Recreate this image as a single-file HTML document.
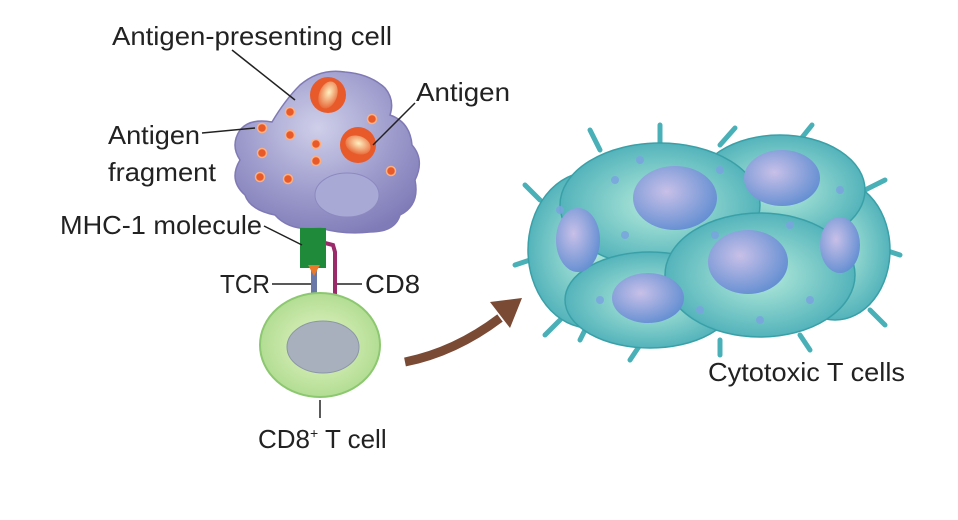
<!DOCTYPE html>
<html><head><meta charset="utf-8"><style>
html,body{margin:0;padding:0;background:#fff;width:958px;height:520px;overflow:hidden}
svg text{font-family:"Liberation Sans",sans-serif;font-size:26px;fill:#222}
</style></head><body>
<svg width="958" height="520" viewBox="0 0 958 520" xmlns="http://www.w3.org/2000/svg">
<defs>
<radialGradient id="apc" cx="0.45" cy="0.35" r="0.7"><stop offset="0" stop-color="#cfcfea"/><stop offset="0.6" stop-color="#9c9acb"/><stop offset="1" stop-color="#7f7bb8"/></radialGradient>
<radialGradient id="tc" cx="0.5" cy="0.5" r="0.6"><stop offset="0" stop-color="#e6f5c8"/><stop offset="1" stop-color="#a8d888"/></radialGradient>
<radialGradient id="ag" cx="0.5" cy="0.4" r="0.6"><stop offset="0" stop-color="#fff0c0"/><stop offset="1" stop-color="#e86a3a"/></radialGradient>
<radialGradient id="cell" cx="0.5" cy="0.5" r="0.6"><stop offset="0" stop-color="#b8ecdc"/><stop offset="1" stop-color="#3fa8b4"/></radialGradient>
<radialGradient id="nuc" cx="0.4" cy="0.4" r="0.7"><stop offset="0" stop-color="#c8c0e8"/><stop offset="1" stop-color="#5a8ad0"/></radialGradient>
</defs>
<path d="M240 130 Q250 118 272 122 Q285 100 300 85 Q320 68 345 72 Q370 74 385 88 Q395 100 390 115 Q410 122 412 145 Q425 160 415 180 Q420 205 400 215 Q395 232 370 232 Q345 235 320 228 Q290 232 275 215 Q250 210 245 195 Q228 180 240 160 Q230 145 240 130Z" fill="url(#apc)" stroke="#7f7ab5" stroke-width="1.5"/>
<ellipse cx="347" cy="195" rx="32" ry="22" fill="#a9a9d6" stroke="#8c89c0"/>
<g fill="#e85a2a" stroke="#ffb080" stroke-width="1.5">
<circle cx="262" cy="128" r="4.5"/><circle cx="290" cy="112" r="4.5"/><circle cx="290" cy="135" r="4.5"/><circle cx="316" cy="144" r="4.5"/><circle cx="262" cy="153" r="4.5"/><circle cx="260" cy="177" r="4.5"/><circle cx="288" cy="179" r="4.5"/><circle cx="316" cy="161" r="4.5"/><circle cx="372" cy="119" r="4.5"/><circle cx="391" cy="171" r="4.5"/>
</g>
<g>
<circle cx="328" cy="95" r="18" fill="#e85a2a"/><ellipse cx="328" cy="95" rx="9" ry="14" fill="url(#ag)" transform="rotate(20 328 95)"/>
<circle cx="358" cy="145" r="18" fill="#e85a2a"/><ellipse cx="358" cy="145" rx="13" ry="9" fill="url(#ag)" transform="rotate(20 358 145)"/>
</g>
<path d="M325 243 L333 245 L335 252 L335 296" fill="none" stroke="#9a2a6a" stroke-width="4"/>
<rect x="300" y="228" width="26" height="40" fill="#1e8a3a"/>
<rect x="311" y="268" width="6" height="28" fill="#6a78a8"/>
<path d="M308 265 L320 265 L314 276Z" fill="#e87a2a"/>
<ellipse cx="320" cy="345" rx="60" ry="52" fill="url(#tc)" stroke="#8cc870" stroke-width="2"/>
<ellipse cx="323" cy="347" rx="36" ry="26" fill="#a9b0bd" stroke="#8a96a8"/>
<g stroke="#222" stroke-width="1.5" fill="none">
<line x1="232" y1="50" x2="295" y2="100"/>
<line x1="415" y1="103" x2="373" y2="145"/>
<line x1="202" y1="133" x2="255" y2="128"/>
<line x1="264" y1="226" x2="302" y2="245"/>
<line x1="272" y1="284" x2="311" y2="284"/>
<line x1="337" y1="284" x2="362" y2="284"/>
<line x1="320" y1="400" x2="320" y2="418"/>
</g>
<path d="M405 362 Q455 352 500 318" fill="none" stroke="#7a4a35" stroke-width="9"/>
<path d="M490 302 L522 298 L510 328Z" fill="#7a4a35"/>
<g stroke="#4ab0b8" stroke-width="5" stroke-linecap="round">
<line x1="540" y1="200" x2="525" y2="185"/><line x1="530" y1="260" x2="515" y2="265"/><line x1="560" y1="320" x2="545" y2="335"/><line x1="600" y1="150" x2="590" y2="130"/><line x1="660" y1="145" x2="660" y2="125"/><line x1="720" y1="145" x2="735" y2="128"/><line x1="800" y1="140" x2="812" y2="125"/><line x1="865" y1="190" x2="885" y2="180"/><line x1="885" y1="250" x2="900" y2="255"/><line x1="870" y1="310" x2="885" y2="325"/><line x1="800" y1="335" x2="810" y2="350"/><line x1="720" y1="340" x2="720" y2="355"/><line x1="640" y1="345" x2="630" y2="360"/><line x1="590" y1="320" x2="580" y2="340"/>
</g>
<g stroke="#3aa0a8" stroke-width="1.5">
<ellipse cx="590" cy="250" rx="62" ry="78" fill="url(#cell)"/>
<ellipse cx="835" cy="250" rx="55" ry="70" fill="url(#cell)"/>
<ellipse cx="780" cy="190" rx="85" ry="55" fill="url(#cell)"/>
<ellipse cx="660" cy="205" rx="100" ry="62" fill="url(#cell)"/>
<ellipse cx="650" cy="300" rx="85" ry="48" fill="url(#cell)"/>
<ellipse cx="760" cy="275" rx="95" ry="62" fill="url(#cell)"/>
</g>
<g fill="url(#nuc)">
<ellipse cx="578" cy="240" rx="22" ry="32"/>
<ellipse cx="840" cy="245" rx="20" ry="28"/>
<ellipse cx="782" cy="178" rx="38" ry="28"/>
<ellipse cx="675" cy="198" rx="42" ry="32"/>
<ellipse cx="648" cy="298" rx="36" ry="25"/>
<ellipse cx="748" cy="262" rx="40" ry="32"/>
</g>
<g fill="#7aa4e0" opacity="0.85">
<circle cx="615" cy="180" r="4"/><circle cx="720" cy="170" r="4"/><circle cx="715" cy="235" r="4"/><circle cx="625" cy="235" r="4"/><circle cx="810" cy="300" r="4"/><circle cx="700" cy="310" r="4"/><circle cx="840" cy="190" r="4"/><circle cx="600" cy="300" r="4"/><circle cx="790" cy="225" r="4"/><circle cx="640" cy="160" r="4"/><circle cx="760" cy="320" r="4"/><circle cx="560" cy="210" r="4"/>
</g>
<text x="112" y="45" textLength="280" lengthAdjust="spacingAndGlyphs">Antigen-presenting cell</text>
<text x="416" y="101" textLength="94" lengthAdjust="spacingAndGlyphs">Antigen</text>
<text x="108" y="144" textLength="92" lengthAdjust="spacingAndGlyphs">Antigen</text>
<text x="108" y="181" textLength="108" lengthAdjust="spacingAndGlyphs">fragment</text>
<text x="60" y="234" textLength="202" lengthAdjust="spacingAndGlyphs">MHC-1 molecule</text>
<text x="220" y="293" textLength="50" lengthAdjust="spacingAndGlyphs">TCR</text>
<text x="365" y="293" textLength="55" lengthAdjust="spacingAndGlyphs">CD8</text>
<text x="258" y="448">CD8<tspan font-size="14" dy="-10">+</tspan><tspan dy="10"> T cell</tspan></text>
<text x="708" y="381" textLength="197" lengthAdjust="spacingAndGlyphs">Cytotoxic T cells</text>
</svg>
</body></html>
